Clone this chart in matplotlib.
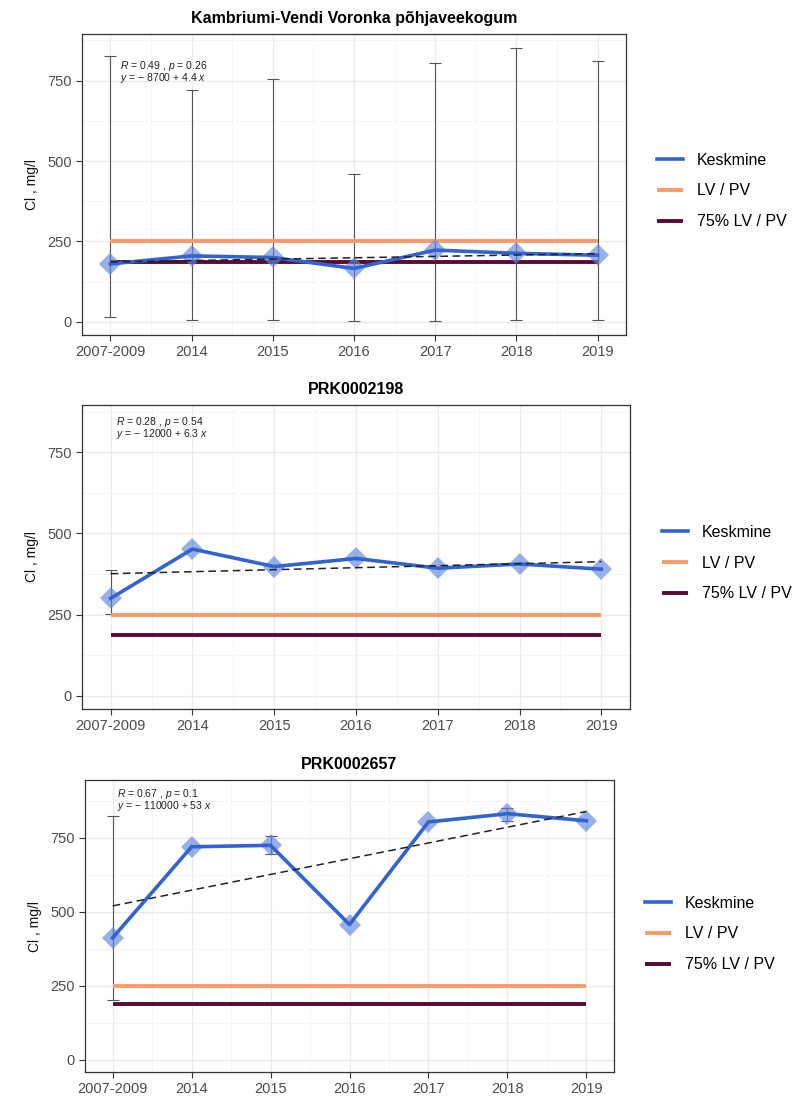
import numpy as np
import matplotlib
matplotlib.use("Agg")
import matplotlib.pyplot as plt

plt.rcParams['font.family'] = ['Liberation Sans', 'DejaVu Sans']
plt.rcParams['mathtext.fontset'] = 'custom'
plt.rcParams['mathtext.it'] = 'Liberation Sans:italic'
plt.rcParams['mathtext.rm'] = 'Liberation Sans'

# data
years = ["2007-2009", "2014", "2015", "2016", "2017", "2018", "2019"]
titles = ["Kambriumi-Vendi Voronka põhjaveekogum", "PRK0002198", "PRK0002657"]

mean_kv = [180, 205, 200, 166, 223, 213, 207]
lo_kv = [14, 5, 5, 4, 3, 6, 6]
hi_kv = [827, 721, 756, 461, 804, 851, 810]

mean_198 = [300, 452, 398, 423, 393, 406, 390]
lo_198 = [252, np.nan, np.nan, np.nan, np.nan, np.nan, np.nan]
hi_198 = [387, np.nan, np.nan, np.nan, np.nan, np.nan, np.nan]

mean_657 = [412, 720, 725, 457, 804, 832, 808]
lo_657 = [203, np.nan, 696, np.nan, np.nan, 808, np.nan]
hi_657 = [823, np.nan, 755, np.nan, np.nan, 850, np.nan]

lv = 250
lv75 = 187.5

stats_txt = ["$R$ = 0.49 , $p$ = 0.26\n$y$ = \u2212 8700 + 4.4 $x$",
             "$R$ = 0.28 , $p$ = 0.54\n$y$ = \u2212 12000 + 6.3 $x$",
             "$R$ = 0.67 , $p$ = 0.1\n$y$ = \u2212 110000 + 53 $x$"]

W, H = 809, 1097
fig = plt.figure(figsize=(W / 100, H / 100), dpi=100)

# axes boxes in pixels: left, right, top, bottom
boxes = [(82, 626, 34, 335), (82, 630, 405, 709), (85, 614, 780, 1072)]
ylims = [(-41, 895), (-41, 896), (-42, 946)]
leg_pos = [(657, 191), (662, 563), (645, 934)]
txt_pos = [(0.07, 0.875), (0.062, 0.925), (0.06, 0.931)]

means = [mean_kv, mean_198, mean_657]
los = [lo_kv, lo_198, lo_657]
his = [hi_kv, hi_198, hi_657]

blue = "#3263d0"
orange = "#ff9966"
dark = "#5c0a33"
x = np.arange(len(years))

for i in range(3):
    l, r, t, b = boxes[i]
    ax = fig.add_axes([l / W, 1 - b / H, (r - l) / W, (b - t) / H])
    m = np.array(means[i], float)
    lo = np.array(los[i], float)
    hi = np.array(his[i], float)

    ax.set_xlim(-0.35, 6.35)
    ax.set_ylim(*ylims[i])
    ax.set_xticks(x)
    ax.set_xticklabels(years)
    ax.set_yticks([0, 250, 500, 750])
    ax.set_xticks(x[:-1] + 0.5, minor=True)
    ax.set_yticks([125, 375, 625, 875], minor=True)
    ax.grid(True, which='major', color='#ebebeb', lw=1.0, zorder=0)
    ax.grid(True, which='minor', color='#f4f4f4', lw=0.6, zorder=0)
    ax.set_axisbelow(True)
    ax.tick_params(which='major', length=4, color='#333333', labelsize=10.5,
                   labelcolor='#4d4d4d', width=0.8)
    ax.tick_params(which='minor', length=0)
    for s in ax.spines.values():
        s.set_color('#333333')
        s.set_linewidth(0.9)

    # error bars
    ok = ~np.isnan(lo)
    ax.errorbar(x[ok], m[ok], yerr=[m[ok] - lo[ok], hi[ok] - m[ok]], fmt='none',
                ecolor='#555555', elinewidth=0.8, capsize=4, capthick=0.8, zorder=2)

    h_lv, = ax.plot(x, [lv] * len(x), color=orange, lw=2.8, label="LV / PV", zorder=3,
                    solid_capstyle='butt')
    h_75, = ax.plot(x, [lv75] * len(x), color=dark, lw=2.8, label="75% LV / PV", zorder=3,
                    solid_capstyle='butt')
    ax.plot(x, m, 'D', color='#5f87dc', alpha=0.65, ms=11.5, mew=0, zorder=4)
    h_m, = ax.plot(x, m, color=blue, lw=2.6, label="Keskmine", zorder=5)

    # linear trend
    k, c = np.polyfit(x, m, 1)
    ax.plot(x, c + k * x, color='#222222', lw=1.1, ls=(0, (5, 3)), zorder=6)

    tx, ty = txt_pos[i]
    ax.text(tx, ty, stats_txt[i], transform=ax.transAxes, fontsize=7.5,
            color='#222222', va='center', linespacing=0.8)

    ax.set_ylabel("Cl , mg/l", fontsize=10, color='#111111', labelpad=6)
    ax.set_title(titles[i], fontsize=11.5, fontweight='bold', pad=8)

    lx, ly = leg_pos[i]
    ax.legend(handles=[h_m, h_lv, h_75], loc='center left',
              bbox_to_anchor=(lx / W, 1 - ly / H), bbox_transform=fig.transFigure,
              frameon=False, fontsize=11.5, handlelength=1.65, handletextpad=0.85,
              labelspacing=1.0, borderpad=0, borderaxespad=0)

fig.savefig("out.png", dpi=100)
